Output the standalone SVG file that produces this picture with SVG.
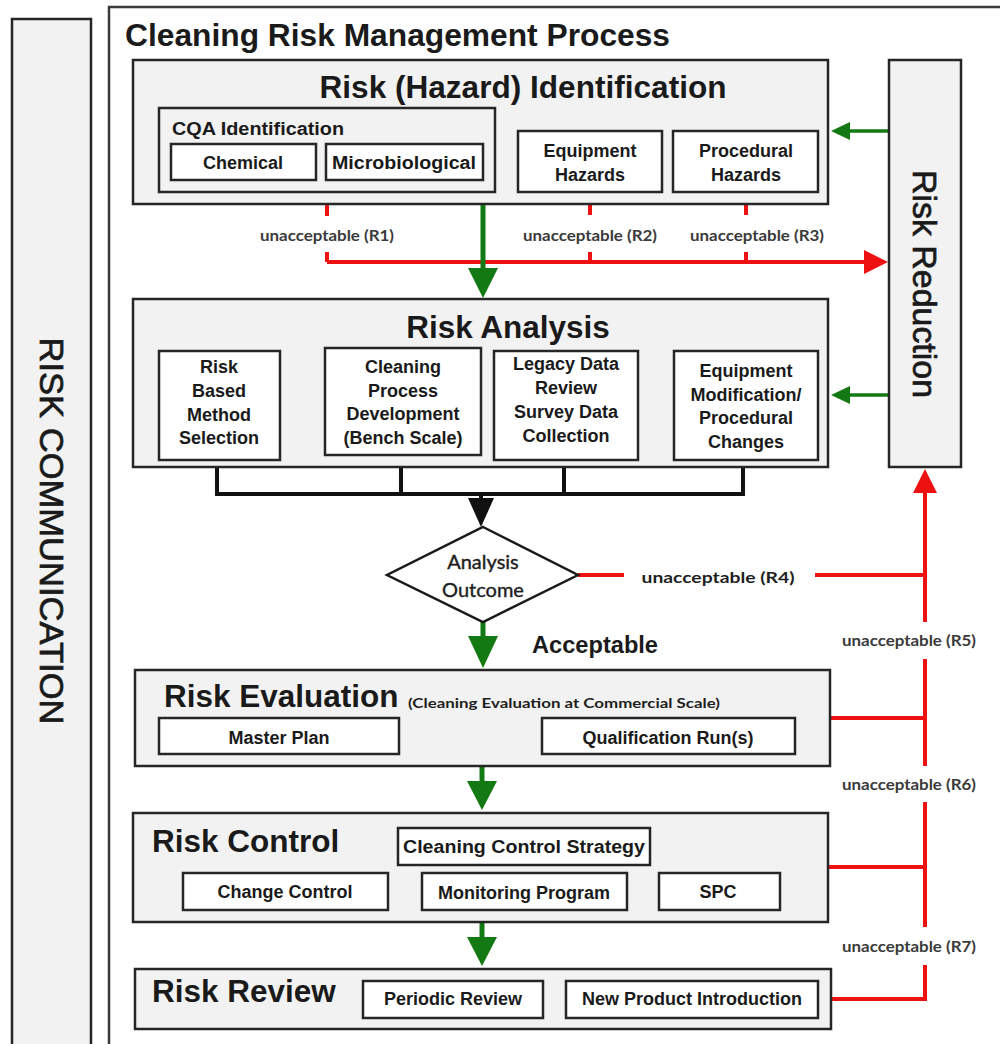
<svg xmlns="http://www.w3.org/2000/svg" width="1000" height="1044" viewBox="0 0 1000 1044">
  <style>
    .panel { fill: #f2f2f2; stroke: #262626; stroke-width: 2.5; }
    .frame { fill: #ffffff; stroke: #3a3a3a; stroke-width: 2.5; }
    .box { fill: #ffffff; stroke: #262626; stroke-width: 2.5; }
    .hdr { font-family: "Liberation Sans", Arial, sans-serif; font-weight: bold; font-size: 31.5px; fill: #1a1a1a; }
    .lbl { font-family: "Liberation Sans", Arial, sans-serif; font-weight: bold; font-size: 18px; fill: #1a1a1a; text-anchor: middle; }
    .side { font-family: "Liberation Sans", Arial, sans-serif; font-size: 34px; fill: #1a1a1a; stroke: #1a1a1a; stroke-width: 0.7; text-anchor: middle; }
    .cal { font-family: Lato, "Open Sans", sans-serif; fill: #1e1e1e; text-anchor: middle; }
    .un { font-family: Lato, "Open Sans", sans-serif; font-weight: bold; font-size: 15.5px; fill: #3a3a3a; text-anchor: middle; }
    .red { stroke: #ee1111; stroke-width: 4; fill: none; }
    .grn { stroke: #137a13; fill: none; }
    .blk { stroke: #111111; stroke-width: 4; fill: none; }
  </style>
  <defs>
    <marker id="headSmall" viewBox="0 0 10 10" refX="10" refY="5" markerWidth="5" markerHeight="5" markerUnits="strokeWidth" orient="auto">
      <path d="M0,0 L10,5 L0,10 z" fill="#111111"/>
    </marker>
  </defs>

  <!-- side panel -->
  <g id="risk-communication">
    <rect class="panel" x="12" y="19" width="79" height="1040"/>
    <text class="side" transform="translate(52,531) rotate(90)" dy="12" textLength="387" lengthAdjust="spacingAndGlyphs">RISK COMMUNICATION</text>
  </g>

  <!-- process frame -->
  <g id="process-frame">
    <rect class="frame" x="109" y="7" width="900" height="1050"/>
    <text class="hdr" x="125" y="46" font-size="30" textLength="545" lengthAdjust="spacingAndGlyphs">Cleaning Risk Management Process</text>
  </g>

  <!-- connectors -->
  <g id="connectors">
    <!-- hazard identification to risk reduction -->
    <path class="red" d="M327,192 V216 M327,252 V262 M590,192 V215 M590,252 V262 M746,192 V215 M746,252 V262"/>
    <path class="red" d="M327,262 H866"/>
    <polygon points="864,250 888,262 864,274" fill="#ee1111"/>
    <text class="un" x="327" y="241" textLength="134" lengthAdjust="spacingAndGlyphs">unacceptable (R1)</text>
    <text class="un" x="590" y="241" textLength="134" lengthAdjust="spacingAndGlyphs">unacceptable (R2)</text>
    <text class="un" x="757" y="241" textLength="134" lengthAdjust="spacingAndGlyphs">unacceptable (R3)</text>

    <!-- identification to analysis -->
    <path class="grn" stroke-width="5" d="M483,204 V270"/>
    <polygon points="468,268 498,268 483,298" fill="#137a13"/>

    <!-- risk reduction feedback -->
    <path class="grn" stroke-width="3.5" d="M888,131 H846"/>
    <polygon points="850,122 850,140 831,131" fill="#137a13"/>
    <path class="grn" stroke-width="3.5" d="M888,395 H846"/>
    <polygon points="850,386 850,404 831,395" fill="#137a13"/>

    <!-- bench scale to method selection -->
    <path class="red" d="M324,402 H300"/>
    <polygon points="304,390 304,414 281,402" fill="#ee1111"/>

    <!-- analysis outputs gathered -->
    <path class="blk" d="M217,460 V494 H743 V460 M401,455 V494 M564,460 V494 M481,494 V500"/>
    <polygon points="468,498 494,498 481,527" fill="#111111"/>

    <!-- analysis outcome -->
    <path class="red" d="M578,575 H624 M815,575 H925"/>
    <text class="cal" x="718" y="583" font-size="16" font-weight="bold" textLength="153" lengthAdjust="spacingAndGlyphs">unacceptable (R4)</text>
    <path class="grn" stroke-width="5" d="M483,622 V640"/>
    <polygon points="468,636 498,636 483,668" fill="#137a13"/>
    <text x="532" y="653" font-family="Liberation Sans, Arial, sans-serif" font-weight="bold" font-size="23" fill="#1a1a1a" textLength="126" lengthAdjust="spacingAndGlyphs">Acceptable</text>

    <!-- return line to risk reduction -->
    <path class="red" d="M925,490 V622 M925,659 V766 M925,802 V927 M925,965 V999"/>
    <polygon points="913,493 937,493 925,469" fill="#ee1111"/>
    <path class="red" d="M830,718 H925 M829,867 H925 M831,999 H927"/>
    <text class="un" x="909" y="646" textLength="134" lengthAdjust="spacingAndGlyphs">unacceptable (R5)</text>
    <text class="un" x="909" y="790" textLength="134" lengthAdjust="spacingAndGlyphs">unacceptable (R6)</text>
    <text class="un" x="909" y="952" textLength="134" lengthAdjust="spacingAndGlyphs">unacceptable (R7)</text>

    <!-- stage to stage -->
    <path class="grn" stroke-width="5" d="M482,767 V784"/>
    <polygon points="467,781 497,781 482,810" fill="#137a13"/>
    <path class="grn" stroke-width="5" d="M482,922 V940"/>
    <polygon points="467,937 497,937 482,966" fill="#137a13"/>

    <!-- master plan to qualification -->
    <path d="M399,737 H539" stroke="#111111" stroke-width="2" marker-end="url(#headSmall)"/>
  </g>

  <!-- risk (hazard) identification -->
  <g id="hazard-identification">
    <rect class="panel" x="133" y="60" width="695" height="144"/>
    <text class="hdr" x="523" y="98" text-anchor="middle" textLength="407" lengthAdjust="spacingAndGlyphs">Risk (Hazard) Identification</text>
    <rect class="panel" x="159" y="108" width="336" height="84"/>
    <text class="lbl" x="172" y="135" style="text-anchor:start" textLength="172" lengthAdjust="spacingAndGlyphs">CQA Identification</text>
    <rect class="box" x="171" y="144" width="145" height="36"/>
    <text class="lbl" x="243" y="169">Chemical</text>
    <rect class="box" x="326" y="144" width="157" height="36"/>
    <text class="lbl" x="404" y="169" textLength="144" lengthAdjust="spacingAndGlyphs">Microbiological</text>
    <rect class="box" x="518" y="131" width="144" height="61"/>
    <text class="lbl" x="590" y="157">Equipment</text>
    <text class="lbl" x="590" y="181">Hazards</text>
    <rect class="box" x="673" y="131" width="145" height="61"/>
    <text class="lbl" x="746" y="157">Procedural</text>
    <text class="lbl" x="746" y="181">Hazards</text>
  </g>

  <!-- risk reduction -->
  <g id="risk-reduction">
    <rect class="panel" x="889" y="60" width="72" height="407"/>
    <text class="side" transform="translate(925,284) rotate(90)" dy="12" textLength="228" lengthAdjust="spacingAndGlyphs">Risk Reduction</text>
  </g>

  <!-- risk analysis -->
  <g id="risk-analysis">
    <rect class="panel" x="133" y="299" width="695" height="168"/>
    <text class="hdr" x="508" y="338" text-anchor="middle">Risk Analysis</text>
    <rect class="box" x="159" y="351" width="121" height="109"/>
    <text class="lbl" x="219" y="373">Risk</text>
    <text class="lbl" x="219" y="397">Based</text>
    <text class="lbl" x="219" y="421">Method</text>
    <text class="lbl" x="219" y="444">Selection</text>
    <rect class="box" x="325" y="348" width="156" height="107"/>
    <text class="lbl" x="403" y="373">Cleaning</text>
    <text class="lbl" x="403" y="397">Process</text>
    <text class="lbl" x="403" y="420">Development</text>
    <text class="lbl" x="403" y="444">(Bench Scale)</text>
    <rect class="box" x="494" y="351" width="144" height="109"/>
    <text class="lbl" x="566" y="370">Legacy Data</text>
    <text class="lbl" x="566" y="394">Review</text>
    <text class="lbl" x="566" y="418">Survey Data</text>
    <text class="lbl" x="566" y="442">Collection</text>
    <rect class="box" x="674" y="351" width="144" height="109"/>
    <text class="lbl" x="746" y="377">Equipment</text>
    <text class="lbl" x="746" y="401">Modification/</text>
    <text class="lbl" x="746" y="424">Procedural</text>
    <text class="lbl" x="746" y="448">Changes</text>
  </g>

  <!-- analysis outcome decision -->
  <g id="analysis-outcome">
    <polygon points="483,527 578,575 483,622 387,575" fill="#ffffff" stroke="#1a1a1a" stroke-width="2.5"/>
    <text class="cal" x="483" y="569" font-size="20" stroke="#1e1e1e" stroke-width="0.4">Analysis</text>
    <text class="cal" x="483" y="597" font-size="20" stroke="#1e1e1e" stroke-width="0.4">Outcome</text>
  </g>

  <!-- risk evaluation -->
  <g id="risk-evaluation">
    <rect class="panel" x="135" y="670" width="695" height="96"/>
    <text class="hdr" x="164" y="707">Risk Evaluation</text>
    <text class="cal" x="564" y="708" font-size="13.5" font-weight="bold" textLength="312" lengthAdjust="spacingAndGlyphs">(Cleaning Evaluation at Commercial Scale)</text>
    <rect class="box" x="159" y="718" width="240" height="36"/>
    <text class="lbl" x="279" y="744">Master Plan</text>
    <rect class="box" x="542" y="718" width="253" height="36"/>
    <text class="lbl" x="668" y="744">Qualification Run(s)</text>
  </g>

  <!-- risk control -->
  <g id="risk-control">
    <rect class="panel" x="133" y="813" width="695" height="109"/>
    <text class="hdr" x="152" y="852">Risk Control</text>
    <rect class="box" x="398" y="828" width="252" height="37"/>
    <text class="lbl" x="524" y="853" textLength="242" lengthAdjust="spacingAndGlyphs">Cleaning Control Strategy</text>
    <rect class="box" x="183" y="873" width="205" height="37"/>
    <text class="lbl" x="285" y="898">Change Control</text>
    <rect class="box" x="422" y="873" width="205" height="37"/>
    <text class="lbl" x="524" y="899">Monitoring Program</text>
    <rect class="box" x="659" y="873" width="121" height="37"/>
    <text class="lbl" x="718" y="898">SPC</text>
  </g>

  <!-- risk review -->
  <g id="risk-review">
    <rect class="panel" x="135" y="969" width="696" height="60"/>
    <text class="hdr" x="152" y="1002">Risk Review</text>
    <rect class="box" x="363" y="981" width="180" height="37"/>
    <text class="lbl" x="453" y="1005">Periodic Review</text>
    <rect class="box" x="566" y="981" width="252" height="37"/>
    <text class="lbl" x="692" y="1005">New Product Introduction</text>
  </g>
</svg>
